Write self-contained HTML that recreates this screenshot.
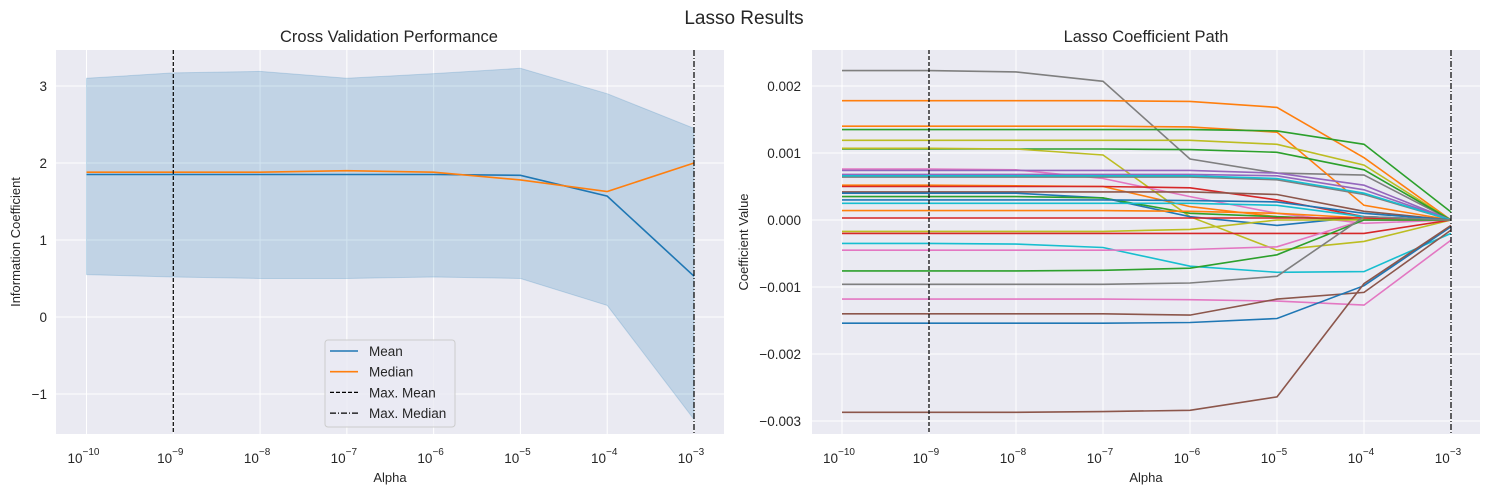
<!DOCTYPE html>
<html><head><meta charset="utf-8"><style>
body{margin:0;background:#fff;font-family:"Liberation Sans","DejaVu Sans",sans-serif;}
svg text{font-family:"Liberation Sans","DejaVu Sans",sans-serif;fill:#262626;}
</style></head><body>
<svg id="fig" width="1489" height="495" xmlns="http://www.w3.org/2000/svg">
<text x="744" y="24" font-size="19" text-anchor="middle">Lasso Results</text>
</svg>
<script>
const alphaExp=[-10,-9,-8,-7,-6,-5,-4,-3];
const meanIC=[1.85,1.85,1.85,1.85,1.85,1.84,1.57,0.53];
const medianIC=[1.88,1.88,1.88,1.90,1.88,1.78,1.63,2.0];
const upperIC=[3.1,3.17,3.19,3.1,3.16,3.23,2.9,2.45];
const lowerIC=[0.55,0.52,0.5,0.5,0.52,0.5,0.15,-1.33];
const leftYTicks=[-1,0,1,2,3];
const rightYTicks=[-0.003,-0.002,-0.001,0,0.001,0.002];
const rightYLabels=["\u22120.003","\u22120.002","\u22120.001","0.000","0.001","0.002"];
const maxMeanExp=-9, maxMedianExp=-3;
// coefficient paths (x1e-3)
const c01=[2.23,2.23,2.21,2.07,0.91,0.70,0.67,0];
const c02=[1.78,1.78,1.78,1.78,1.77,1.68,0.93,0];
const c03=[1.40,1.40,1.40,1.40,1.39,1.31,0.22,0];
const c04=[1.35,1.35,1.35,1.35,1.35,1.33,1.13,0.12];
const c05=[1.19,1.19,1.19,1.19,1.19,1.13,0.82,0];
const c06=[1.06,1.06,1.06,1.06,1.05,1.01,0.75,0];
const c07=[1.07,1.07,1.06,0.97,0.05,-0.45,-0.32,0];
const c08=[0.76,0.76,0.75,0.62,0.35,0.10,-0.05,0];
const c09=[0.74,0.74,0.74,0.74,0.74,0.70,0.52,0];
const c10=[0.68,0.68,0.68,0.68,0.68,0.66,0.45,0];
const c11=[0.64,0.64,0.64,0.64,0.64,0.60,0.38,0];
const c12=[0.66,0.66,0.66,0.66,0.66,0.62,0.40,0];
const c13=[0.52,0.52,0.51,0.50,0.20,0.05,0.0,0];
const c14=[0.50,0.50,0.50,0.50,0.48,0.30,0.05,0];
const c15=[0.42,0.42,0.42,0.42,0.42,0.38,0.13,0];
const c16=[0.40,0.40,0.40,0.33,0.05,-0.08,0.05,0];
const c17=[0.35,0.35,0.35,0.33,0.10,0.05,0,0];
const c18=[0.30,0.30,0.30,0.30,0.29,0.27,0.10,0];
const c19=[0.25,0.25,0.25,0.25,0.25,0.22,0.05,0];
const c20=[0.14,0.14,0.14,0.14,0.13,0.10,0.03,0];
const c21=[0.03,0.03,0.03,0.03,0.03,0.03,0.03,0];
const c22=[-0.17,-0.17,-0.17,-0.17,-0.14,0.0,0.0,0];
const c23=[-0.2,-0.2,-0.2,-0.2,-0.2,-0.2,-0.2,0];
const c24=[-0.35,-0.35,-0.36,-0.41,-0.69,-0.78,-0.77,-0.2];
const c25=[-0.45,-0.45,-0.45,-0.45,-0.44,-0.40,0.0,0];
const c26=[-0.76,-0.76,-0.76,-0.75,-0.72,-0.52,0.0,0];
const c27=[-0.96,-0.96,-0.96,-0.96,-0.94,-0.84,0.05,0];
const c28=[-1.18,-1.18,-1.18,-1.18,-1.19,-1.21,-1.27,-0.3];
const c29=[-1.40,-1.40,-1.40,-1.40,-1.42,-1.18,-1.08,-0.15];
const c30=[-1.54,-1.54,-1.54,-1.54,-1.53,-1.47,-0.98,-0.1];
const c31=[-2.87,-2.87,-2.87,-2.86,-2.84,-2.64,-0.95,-0.08];
const coefSeries=[c01,c02,c03,c04,c05,c06,c07,c08,c09,c10,c11,c12,c13,c14,c15,c16,c17,c18,c19,c20,c21,c22,c23,c24,c25,c26,c27,c28,c29,c30,c31];
const coefColors=["#7f7f7f","#ff7f0e","#ff7f0e","#2ca02c","#bcbd22","#2ca02c","#bcbd22","#e377c2","#9467bd","#9467bd","#7f7f7f","#17becf","#ff7f0e","#d62728","#8c564b","#1f77b4","#2ca02c","#1f77b4","#17becf","#ff7f0e","#d62728","#bcbd22","#d62728","#17becf","#e377c2","#2ca02c","#7f7f7f","#e377c2","#8c564b","#1f77b4","#8c564b"];

const NS="http://www.w3.org/2000/svg";
const svg=document.getElementById('fig');
function mk(tag,attrs,parent,text){const e=document.createElementNS(NS,tag);for(const k in attrs)e.setAttribute(k,attrs[k]);if(text!==undefined)e.textContent=text;(parent||svg).appendChild(e);return e;}

function axes(L,T,R,B,name){
  const g=mk('g',{});
  
  
  const bg=mk('rect',{x:L,y:T,width:R-L,height:B-T,fill:'#eaeaf2'},g);
  
  
  return {g,T};
}
function xTicks(ax,B){
  alphaExp.forEach(e=>{
    const x=ax.xs(e);
    const l=mk('line',{x1:x,x2:x,y1:ax.T,y2:B,stroke:'#fff','stroke-width':1},ax.g);
    
    
    const t=mk('text',{x:x-3,y:B+29,'font-size':13.5,'text-anchor':'middle'},ax.g);
    
    
    mk('tspan',{},t,'10');
    mk('tspan',{dy:-8,'font-size':10},t,'\u2212'+(-e));
  });
}
function yGrid(ax,vals,labels,L,R,labelX){
  vals.forEach((v,i)=>{
    const y=ax.ys(v);
    const l=mk('line',{x1:L,x2:R,y1:y,y2:y,stroke:'#fff','stroke-width':1},ax.g);
    
    
    const t=mk('text',{x:labelX,y:y+5,'font-size':13.5,'text-anchor':'end'},ax.g,labels[i]);
    
    
  });
}
function path(ax,ys,stroke,w,name){
  const d=alphaExp.map((e,i)=>(i?'L':'M')+ax.xs(e).toFixed(1)+','+ax.ys(ys[i]).toFixed(1)).join('');
  const p=mk('path',{d,fill:'none',stroke,'stroke-width':w},ax.g);
  
  
  return p;
}
function vline(ax,e,T,B,dash,name){
  const x=ax.xs(e);
  const l=mk('line',{x1:x,x2:x,y1:T,y2:B,stroke:'#000','stroke-width':1.2,'stroke-dasharray':dash},ax.g);
  
  
}

// LEFT
const LL=56,LT=50,LR=724,LB=434;
const ax1=axes(LL,LT,LR,LB,'cv-performance-chart');
const s1=(694-86.5)/7;
ax1.xs=v=>86.5+(v+10)*s1;
ax1.ys=v=>317-v*77;
yGrid(ax1,leftYTicks,leftYTicks.map(v=>v<0?'\u2212'+(-v):String(v)),LL,LR,47);
xTicks(ax1,LB);
{
  let d=alphaExp.map((e,i)=>(i?'L':'M')+ax1.xs(e)+','+ax1.ys(upperIC[i])).join('');
  for(let i=alphaExp.length-1;i>=0;i--)d+='L'+ax1.xs(alphaExp[i])+','+ax1.ys(lowerIC[i]);
  const band=mk('path',{d:d+'Z',fill:'#1f77b4','fill-opacity':0.2,stroke:'#1f77b4','stroke-opacity':0.2},ax1.g);
  
  
}
path(ax1,meanIC,'#1f77b4',1.6,'mean-line');
path(ax1,medianIC,'#ff7f0e',1.6,'median-line');
vline(ax1,maxMeanExp,LT,LB,'4,2','max-mean-line');
vline(ax1,maxMedianExp,LT,LB,'6,2,1,2','max-median-line');
mk('text',{x:389,y:42,'font-size':16.5,'text-anchor':'middle'},ax1.g,'Cross Validation Performance');
mk('text',{x:20,y:242,'font-size':13,'text-anchor':'middle',transform:'rotate(-90 20 242)'},ax1.g,'Information Coefficient');
mk('text',{x:390,y:482,'font-size':13,'text-anchor':'middle'},ax1.g,'Alpha');
{
  const lg=mk('g',{},ax1.g);
  
  
  mk('rect',{x:325,y:340,width:130,height:87,rx:3,fill:'#eaeaf2','fill-opacity':0.8,stroke:'#ccc'},lg);
  const items=[['Mean','#1f77b4',''],['Median','#ff7f0e',''],['Max. Mean','#000','4,2'],['Max. Median','#000','6,2,1,2']];
  items.forEach((it,i)=>{
    const y=351+i*20.7;
    const ln=mk('line',{x1:330,x2:358,y1:y,y2:y,stroke:it[1],'stroke-width':it[2]?1.2:1.6},lg);
    if(it[2])ln.setAttribute('stroke-dasharray',it[2]);
    const t=mk('text',{x:369,y:y+5,'font-size':13.5},lg,it[0]);
    
    
  });
}

// RIGHT
const RL=812,RT=50,RR=1480,RB=434;
const ax2=axes(RL,RT,RR,RB,'coefficient-path-chart');
const s2=(1451-842)/7;
ax2.xs=v=>842+(v+10)*s2;
ax2.ys=v=>220-v*67000;
yGrid(ax2,rightYTicks,rightYLabels,RL,RR,801);
xTicks(ax2,RB);
coefSeries.forEach((s,i)=>{
  path(ax2,s.map(v=>v/1000),coefColors[i],1.6,'coef-path-'+(i+1));
});
vline(ax2,maxMeanExp,RT,RB,'4,2','max-mean-line-right');
vline(ax2,maxMedianExp,RT,RB,'6,2,1,2','max-median-line-right');
mk('text',{x:1146,y:42,'font-size':16.5,'text-anchor':'middle'},ax2.g,'Lasso Coefficient Path');
mk('text',{x:748,y:242,'font-size':13,'text-anchor':'middle',transform:'rotate(-90 748 242)'},ax2.g,'Coefficient Value');
mk('text',{x:1146,y:482,'font-size':13,'text-anchor':'middle'},ax2.g,'Alpha');
</script>
</body></html>
